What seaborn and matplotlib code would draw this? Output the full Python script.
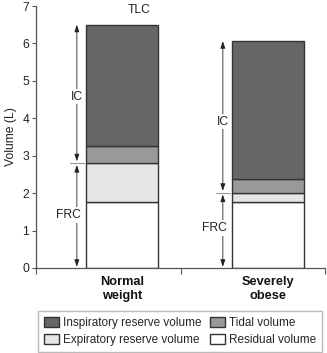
import matplotlib
matplotlib.use("Agg")
import matplotlib.pyplot as plt
import seaborn as sns
import pandas as pd
import numpy as np

# Lung volumes (litres) for each group
groups = ["Normal\nweight", "Severely\nobese"]
residual = [1.77, 1.77]
expiratory_reserve = [1.03, 0.24]
tidal = [0.47, 0.36]
inspiratory_reserve = [3.23, 3.69]

components = ["Residual volume", "Expiratory reserve volume",
              "Tidal volume", "Inspiratory reserve volume"]
values = [residual, expiratory_reserve, tidal, inspiratory_reserve]
colors = ["#ffffff", "#e6e6e6", "#999999", "#666666"]

sns.set_theme(style="ticks")
plt.rcParams["font.family"] = ["Liberation Sans", "DejaVu Sans"]

fig = plt.figure(figsize=(3.27, 3.53), dpi=100)
ax = fig.add_axes([0.110, 0.241, 0.884, 0.742])

df = pd.DataFrame({"group": groups})
bottom = np.zeros(len(groups))
for name, vals, col in zip(components, values, colors):
    df["v"] = vals
    sns.barplot(data=df, x="group", y="v", order=groups, bottom=bottom,
                color=col, saturation=1, width=0.49, edgecolor="#333333",
                linewidth=1.0, ax=ax, label=name)
    bottom = bottom + np.array(vals)

h, l = ax.get_legend_handles_labels()
if ax.get_legend() is not None:
    ax.get_legend().remove()

frc = np.array(residual) + np.array(expiratory_reserve)
tlc = bottom

# IC / FRC brackets beside each bar
arrow_kw = dict(arrowstyle="<|-|>,head_length=0.35,head_width=0.12",
                color="#222222", lw=0.6, shrinkA=0, shrinkB=0)
for i in range(len(groups)):
    xa = i - 0.31
    ax.annotate("", xy=(xa, tlc[i]), xytext=(xa, frc[i] + 0.05),
                arrowprops=arrow_kw)
    ax.annotate("", xy=(xa, frc[i] - 0.05), xytext=(xa, 0.03),
                arrowprops=arrow_kw)
    ax.plot([xa - 0.05, xa + 0.05], [frc[i], frc[i]], color="#999999", lw=0.8)
    ic_y = 4.58 if i == 0 else 3.91
    frc_y = 1.42 if i == 0 else 1.06
    ax.text(xa, ic_y, "IC", ha="center", va="center", fontsize=8.7,
            color="#222222",
            bbox=dict(boxstyle="square,pad=0.15", fc="white", ec="none"))
    ax.text(xa + 0.03, frc_y, "FRC", ha="right", va="center", fontsize=8.7,
            color="#222222",
            bbox=dict(boxstyle="square,pad=0.15", fc="white", ec="none"))

ax.text(0.12, 6.89, "TLC", ha="center", va="center", fontsize=8.7,
        color="#222222")

ax.set_ylim(0, 7)
ax.set_xlim(-0.59, 1.39)
ax.set_yticks(range(8))
ax.set_ylabel("Volume (L)", fontsize=8.7, color="#222222", labelpad=4)
ax.set_xlabel("")

ax.set_xticks([-0.59, 0.40, 1.39])
ax.set_xticklabels([])
ax.set_xticks([0, 1], minor=True)
ax.set_xticklabels(groups, minor=True, fontweight="bold", fontsize=9.2,
                   color="#111111", linespacing=1.2)
ax.tick_params(axis="x", which="minor", length=0, pad=6)
ax.tick_params(axis="x", which="major", length=4, width=0.8, color="#555555")
ax.tick_params(axis="y", length=3, width=0.8, color="#555555",
               labelsize=8.7, labelcolor="#222222", pad=2)

for s in ("top", "right"):
    ax.spines[s].set_visible(False)
for s in ("left", "bottom"):
    ax.spines[s].set_color("#555555")
    ax.spines[s].set_linewidth(0.9)

lookup = dict(zip(l, h))
order = ["Inspiratory reserve volume", "Expiratory reserve volume",
         "Tidal volume", "Residual volume"]
leg = fig.legend([lookup[o] for o in order], order, ncol=2,
                 loc="lower center", bbox_to_anchor=(0.551, 0.003),
                 borderaxespad=0.0,
                 fontsize=8.5, frameon=True, fancybox=False,
                 edgecolor="#aaaaaa", handlelength=1.25, handleheight=0.95,
                 handletextpad=0.35, columnspacing=0.7, labelspacing=0.4,
                 borderpad=0.5)
leg.get_frame().set_linewidth(1.0)

fig.savefig("out.png", dpi=100)
